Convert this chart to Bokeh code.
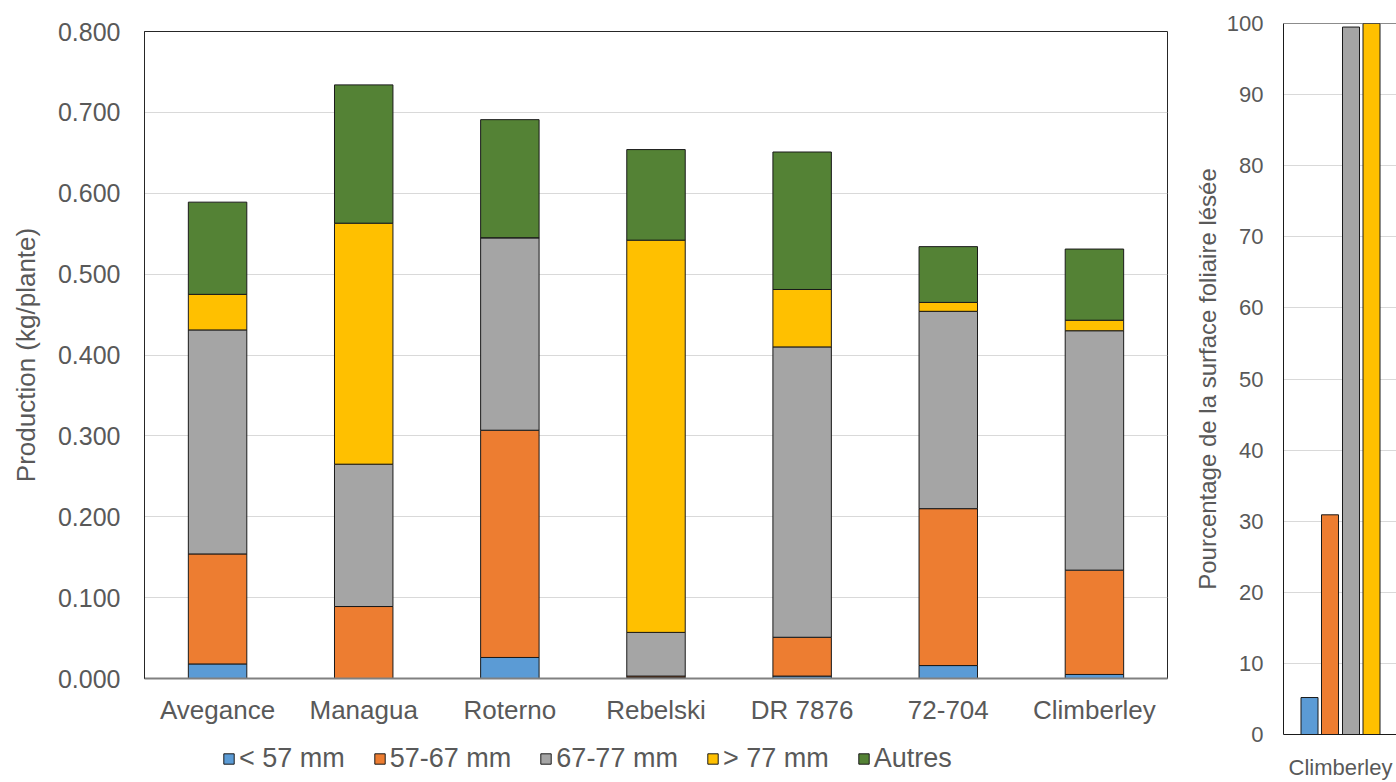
from bokeh.plotting import figure
from bokeh.models import (ColumnDataSource, FactorRange, Range1d, Legend, LegendItem,
                          SingleIntervalTicker, FixedTicker, NumeralTickFormatter, Span)
from bokeh.transform import dodge
from bokeh.layouts import row, column
from bokeh.embed import file_html
from bokeh.resources import INLINE

# ---------------- data ----------------
categories = ["Avegance", "Managua", "Roterno", "Rebelski", "DR 7876", "72-704", "Climberley"]
lt57 = [0.018, 0.000, 0.026, 0.001, 0.003, 0.016, 0.005]
s57_67 = [0.136, 0.089, 0.281, 0.002, 0.048, 0.194, 0.129]
s67_77 = [0.277, 0.176, 0.238, 0.054, 0.359, 0.244, 0.296]
gt77 = [0.044, 0.298, 0.000, 0.485, 0.071, 0.011, 0.013]
autres = [0.114, 0.171, 0.146, 0.112, 0.170, 0.069, 0.088]
series_labels = ["< 57 mm", "57-67 mm", "67-77 mm", "> 77 mm", "Autres"]

right_categories = ["Climberley"]
right_lt57 = [5.2]
right_57_67 = [30.9]
right_67_77 = [99.5]
right_gt77 = [100.0]

colors = ["#5B9BD5", "#ED7D31", "#A5A5A5", "#FFC000", "#548235"]
TXT = "#595959"
FONT = "Liberation Sans"
EDGE = "#1a1a1a"

# ---------------- left chart ----------------
keys = ["s0", "s1", "s2", "s3", "s4"]
src = ColumnDataSource(dict(cat=categories, s0=lt57, s1=s57_67, s2=s67_77, s3=gt77, s4=autres))

p = figure(x_range=FactorRange(*categories, range_padding=0), y_range=Range1d(0, 0.8),
           width=1190, height=728, output_backend="svg", toolbar_location=None,
           min_border_left=144, min_border_top=31, min_border_right=23, min_border_bottom=50)
p.outline_line_color = "#262626"
p.outline_line_width = 1

rs = p.vbar_stack(keys, x="cat", width=0.4, color=colors, line_color=EDGE,
                  line_width=1, source=src)

p.xgrid.grid_line_color = None
p.ygrid.grid_line_color = "#d9d9d9"
p.yaxis.ticker = SingleIntervalTicker(interval=0.1)
p.yaxis.formatter = NumeralTickFormatter(format="0.000")
for ax in (p.xaxis[0], p.yaxis[0]):
    ax.major_tick_line_color = None
    ax.minor_tick_line_color = None
    ax.major_label_text_color = TXT
    ax.major_label_text_font = FONT
    ax.axis_label_text_font = FONT
    ax.axis_label_text_color = TXT
    ax.axis_label_text_font_style = "normal"
p.yaxis.axis_line_color = "#262626"
p.xaxis.axis_line_color = "#808080"
p.xaxis.axis_line_width = 2
p.yaxis.major_label_text_font_size = "25px"
p.xaxis.major_label_text_font_size = "26px"
p.yaxis.major_label_standoff = 18
p.xaxis.major_label_standoff = 10
p.yaxis.axis_label = "Production (kg/plante)"
p.yaxis.axis_label_text_font_size = "26px"
p.yaxis.axis_label_standoff = 14

# ---------------- legend strip (proxy bars kept outside the visible y range) ----------------
lf = figure(width=1190, height=54, output_backend="svg", toolbar_location=None,
            x_axis_location=None, y_axis_location=None, min_border=0,
            x_range=FactorRange(*categories), y_range=Range1d(5, 6))
lf.grid.visible = False
lf.outline_line_color = None
lrs = lf.vbar_stack(keys, x="cat", width=0.4, color=colors, line_color=EDGE,
                    line_width=1, source=src)
legend = Legend(items=[LegendItem(label=l, renderers=[r]) for l, r in zip(series_labels, lrs)],
                orientation="horizontal", location=(222, 8),
                label_text_font=FONT, label_text_font_size="27px", label_text_color=TXT,
                glyph_width=13, glyph_height=13, label_standoff=4, spacing=28,
                padding=0, margin=0, border_line_color=None, background_fill_alpha=0)
lf.add_layout(legend, "center")

# ---------------- right chart ----------------
rsrc = ColumnDataSource(dict(pos=list(range(len(right_categories))),
                             a=right_lt57, b=right_57_67, c=right_67_77, d=right_gt77))
q = figure(x_range=Range1d(-0.57, 0.56), y_range=Range1d(0, 100),
           width=206, height=782, output_backend="svg", toolbar_location=None,
           min_border_left=93, min_border_top=23, min_border_right=0, min_border_bottom=46)
q.outline_line_color = None
offsets = [-0.31, -0.105, 0.105, 0.31]
for col, off, c in zip(["a", "b", "c", "d"], offsets, colors[:4]):
    q.vbar(x=dodge("pos", off), top=col, width=0.17, bottom=0, color=c,
           line_color=EDGE, line_width=1, source=rsrc)

q.xgrid.grid_line_color = None
q.ygrid.grid_line_color = "#d9d9d9"
q.yaxis.ticker = SingleIntervalTicker(interval=10)
q.yaxis.formatter = NumeralTickFormatter(format="0")
q.xaxis.ticker = FixedTicker(ticks=list(range(len(right_categories))))
q.xaxis.major_label_overrides = {i: c for i, c in enumerate(right_categories)}
for ax in (q.xaxis[0], q.yaxis[0]):
    ax.major_tick_line_color = None
    ax.minor_tick_line_color = None
    ax.major_label_text_color = TXT
    ax.major_label_text_font = FONT
    ax.axis_label_text_font = FONT
    ax.axis_label_text_color = TXT
    ax.axis_label_text_font_style = "normal"
    ax.axis_line_color = EDGE
q.yaxis.major_label_text_font_size = "22px"
q.xaxis.major_label_text_font_size = "22px"
q.yaxis.major_label_standoff = 14
q.xaxis.major_label_standoff = 14
q.yaxis.axis_label = "Pourcentage de la surface foliaire lésée"
q.yaxis.axis_label_text_font_size = "24px"
q.yaxis.axis_label_standoff = 3
q.add_layout(Span(location=100, dimension="width", line_color=EDGE, line_width=1))

layout = row(column(p, column(lf), spacing=0), column(q), spacing=0)
open("out.html", "w").write(file_html(layout, INLINE))
